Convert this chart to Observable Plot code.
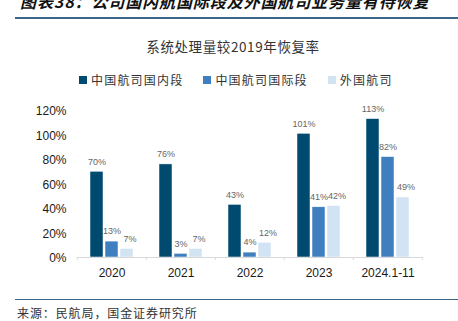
<!DOCTYPE html>
<html>
<head>
<meta charset="utf-8">
<script src="https://cdn.jsdelivr.net/npm/d3@7"></script>
<script src="https://cdn.jsdelivr.net/npm/@observablehq/plot@0.6"></script>
<style>
  html, body { margin: 0; padding: 0; background: #fff; }
  body { width: 458px; height: 321px; overflow: hidden; position: relative; font-family: "Noto Sans CJK SC", "Noto Sans", sans-serif; }
  .abs { position: absolute; }
  #maintitle { left: 20px; top: -7px; font-size: 16px; line-height: 16px; font-weight: bold; font-style: italic; color: #111; white-space: nowrap; letter-spacing: 0.9px; }
  .hline { left: 15px; right: 0; height: 1.5px; background: #3b6486; }
  #ctitle { left: 0; width: 458px; text-align: center; top: 37px; font-size: 13.5px; line-height: 18px; color: #333; letter-spacing: 0.6px; padding-left: 8px; box-sizing: border-box; }
  #legend { left: 79px; top: 72px; display: flex; font-size: 12px; line-height: 16px; color: #333; letter-spacing: 1.2px; }
  .item { display: flex; align-items: center; }
  .sw { width: 8px; height: 8px; margin-right: 4px; }
  #source { left: 17px; top: 305px; font-size: 12px; line-height: 16px; color: #333; letter-spacing: 0.9px; white-space: nowrap; }
  #chart { left: 0; top: 95px; }
</style>
</head>
<body>
<div id="maintitle" class="abs">图表38：公司国内航国际段及外国航司业务量有待恢复</div>
<div class="abs hline" style="top:17px"></div>
<div id="ctitle" class="abs">系统处理量较2019年恢复率</div>
<div id="legend" class="abs"></div>
<div id="chart" class="abs"></div>
<div class="abs hline" style="top:298.5px"></div>
<div id="source" class="abs">来源：民航局，国金证券研究所</div>
<script>
const categories = ["2020", "2021", "2022", "2023", "2024.1-11"];
const series = ["中国航司国内段", "中国航司国际段", "外国航司"];
const domestic = [70, 76, 43, 101, 113];
const international = [13, 3, 4, 41, 82];
const foreign = [7, 7, 12, 42, 49];
const colors = ["#004a70", "#3f7fbf", "#d2e3f3"];
const yTicks = [0, 20, 40, 60, 80, 100, 120];

const valuesBySeries = [domestic, international, foreign];
const data = [];
categories.forEach((c, i) => {
  series.forEach((s, j) => data.push({cat: c, series: s, value: valuesBySeries[j][i]}));
});

// legend
const legend = document.getElementById("legend");
const gaps = [20, 20, 0];
series.forEach((s, j) => {
  const it = document.createElement("div");
  it.className = "item";
  it.style.marginRight = gaps[j] + "px";
  it.innerHTML = `<span class="sw" style="background:${colors[j]}"></span><span>${s}</span>`;
  legend.appendChild(it);
});

const width = 458, ml = 76, mr = 35;
const half = (width - ml - mr) / categories.length / 2;

const plot = Plot.plot({
  width,
  height: 190,
  marginLeft: ml,
  marginRight: mr,
  marginTop: 15,
  marginBottom: 28,
  style: {background: "transparent", fontFamily: "Liberation Sans, Arial, sans-serif"},
  fx: {domain: categories, padding: 0, label: null},
  x: {domain: series, paddingInner: 0.12, paddingOuter: 0.83, axis: null},
  y: {domain: [0, 120], axis: null},
  color: {domain: series, range: colors},
  marks: [
    Plot.axisY({ticks: yTicks, tickFormat: d => d + "%", tickSize: 0, tickPadding: 11, dy: 1, fontSize: 12, color: "#1a1a1a", label: null}),
    Plot.barY(data, {fx: "cat", x: "series", y: "value", fill: "series", stroke: "#fff", strokeWidth: 0.5}),
    Plot.ruleY([0], {stroke: "#d9d9d9", strokeWidth: 1}),
    Plot.axisFx({anchor: "bottom", tickSize: 0, tickPadding: 11, fontSize: 12, color: "#1a1a1a", label: null}),
    Plot.axisFx({anchor: "bottom", tickSize: 3, text: null, dx: -half, stroke: "#d9d9d9", label: null}),
    Plot.axisFx({anchor: "bottom", ticks: [categories[categories.length - 1]], tickSize: 3, text: null, dx: half, stroke: "#d9d9d9", label: null}),
    Plot.text(data.filter(d => d.series !== series[2]), {fx: "cat", x: "series", y: "value", text: d => d.value + "%", dy: -10, fill: "#666", fontSize: 9}),
    Plot.text(data.filter(d => d.series === series[2]), {fx: "cat", x: "series", y: "value", text: d => d.value + "%", dy: -10, dx: 3, fill: "#666", fontSize: 9})
  ]
});
document.getElementById("chart").appendChild(plot);
</script>
</body>
</html>
